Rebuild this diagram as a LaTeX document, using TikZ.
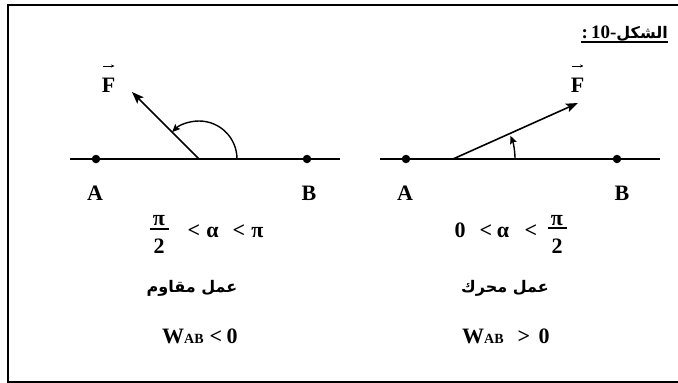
\documentclass[tikz,border=0pt]{standalone}
\usepackage{fontspec}
\setmainfont{Liberation Serif}
\newfontfamily\arabicfont[Script=Arabic]{DejaVu Sans}
\TeXXeTstate=1
\usetikzlibrary{arrows.meta}
\begin{document}
\begin{tikzpicture}[x=1pt,y=-1pt,
  lbl/.style={font=\fontsize{22}{24}\selectfont\bfseries, inner sep=0pt, anchor=base},
  ar/.style={font=\arabicfont\fontsize{16}{18}\selectfont\bfseries, inner sep=0pt},
  axis/.style={line width=1.6pt},
  vec/.style={line width=1.6pt,-{Stealth[length=12pt,width=9pt,inset=2.5pt]}},
  angarc/.style={line width=1.4pt,-{Stealth[length=8pt,width=7pt,inset=1.5pt]}},
  dot/.style={circle,fill=black,inner sep=0pt,minimum size=8.5pt},
  tinyarrow/.style={line width=0.7pt,-{Stealth[length=3.5pt,width=3pt]}},
  frac/.style={line width=1.3pt},
  frame/.style={line width=2pt}]
\useasboundingbox (0,0) rectangle (678,383);
\clip (0,0) rectangle (678,383);
% frame
\coordinate (f1) at (690,5);
\coordinate (f2) at (8,5);
\coordinate (f3) at (8,381.5);
\coordinate (f4) at (690,381.5);
\draw[frame] (f1) -- (f2) -- (f3) -- (f4);
% title
\node[anchor=base east, inner sep=0pt] (title) at (668,38)
  {{\fontsize{19}{20}\selectfont\bfseries :\,10-}{\arabicfont\fontsize{16}{18}\selectfont\bfseries\beginR الشكل\endR}};
\draw[line width=1.5pt] ([yshift=-4pt]title.base west) -- ([yshift=-4pt]title.base east);

% ---------- left diagram ----------
\coordinate (L1) at (70,159);
\coordinate (R1) at (340,159);
\draw[axis] (L1) -- (R1);
\node[dot] (A1) at (96,159) {};
\node[dot] (B1) at (307,159) {};
\node[lbl] (lA1) at (95,200) {A};
\node[lbl] (lB1) at (309,200) {B};
\coordinate (O1) at (199,159);
\coordinate (E1) at (132,92);
\draw[vec] (O1) -- (E1);
\draw[angarc] ([xshift=38pt]O1) arc[start angle=0, end angle=-135, radius=38];
\node[lbl] (F1) at (108.5,92) {F};
\coordinate (F1a) at (102.5,66);
\coordinate (F1b) at (114.5,66);
\draw[tinyarrow] (F1a) -- (F1b);
% inequality
\node[lbl] (pi1) at (159,225) {π};
\node[lbl] (two1) at (159,253) {2};
\coordinate (bar1a) at (150,229);
\coordinate (bar1b) at (169,229);
\draw[frac] (bar1a) -- (bar1b);
\node[lbl] (lt1a) at (194,237) {<};
\node[lbl] (al1) at (212.5,237) {α};
\node[lbl] (lt1b) at (239,237) {<};
\node[lbl] (pi1b) at (257.5,237) {π};
\node[ar] (ar1) at (192,288) {\beginR عمل مقاوم\endR};
\node[lbl, anchor=base west] (W1) at (162,343) {W{\fontsize{14}{15}\selectfont\bfseries AB}};
\node[lbl] (lt1c) at (216,343) {<};
\node[lbl] (z1) at (232,343) {0};

% ---------- right diagram ----------
\coordinate (L2) at (380,159);
\coordinate (R2) at (660,159);
\draw[axis] (L2) -- (R2);
\node[dot] (A2) at (406,159) {};
\node[dot] (B2) at (617,159) {};
\node[lbl] (lA2) at (405,200) {A};
\node[lbl] (lB2) at (622,200) {B};
\coordinate (O2) at (453,159);
\coordinate (E2) at (578,103);
\draw[vec] (O2) -- (E2);
\draw[angarc] ([xshift=62pt]O2) arc[start angle=0, end angle=-22, radius=62];
\node[lbl] (F2) at (577.5,92) {F};
\coordinate (F2a) at (571.5,66);
\coordinate (F2b) at (583.5,66);
\draw[tinyarrow] (F2a) -- (F2b);
% inequality
\node[lbl] (z2a) at (460,237) {0};
\node[lbl] (lt2a) at (486,237) {<};
\node[lbl] (al2) at (503,237) {α};
\node[lbl] (lt2b) at (531,237) {<};
\node[lbl] (pi2) at (557,225) {π};
\node[lbl] (two2) at (557,253) {2};
\coordinate (bar2a) at (548,228);
\coordinate (bar2b) at (567,228);
\draw[frac] (bar2a) -- (bar2b);
\node[ar] (ar2) at (505,288) {\beginR عمل محرك\endR};
\node[lbl, anchor=base west] (W2) at (462,343) {W{\fontsize{14}{15}\selectfont\bfseries AB}};
\node[lbl] (gt2) at (524,343) {>};
\node[lbl] (z2) at (544,343) {0};
\end{tikzpicture}
\end{document}
